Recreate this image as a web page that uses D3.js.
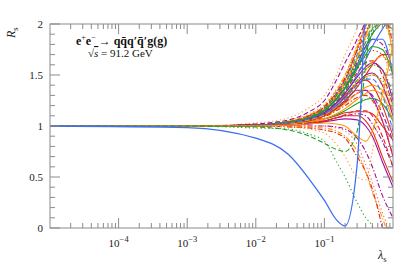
<!DOCTYPE html>
<html><head><meta charset="utf-8">
<script src="https://cdn.jsdelivr.net/npm/d3@7"></script>
<style>body{margin:0;background:#fff}svg{display:block}</style>
</head><body>
<script>
// ---- data ----
const lambdaGrid = [1e-5, 1e-3, 0.01, 0.03, 0.06, 0.1, 0.15, 0.2, 0.3, 0.4, 0.5, 0.7, 1.0];
const xMajorTickLabels = ["\u22124", "\u22123", "\u22122", "\u22121"];
const xMajorTicks = [1e-4, 1e-3, 1e-2, 1e-1];
const yMajorTicks = [0, 0.5, 1, 1.5, 2];
const yTickLabels = ["0", "0.5", "1", "1.5", "2"];

// bundle of ratio curves (R_s at each lambdaGrid point)
const seriesValues = [
  [1,1,1.01,1.04,1.09,1.17,1.30,1.45,1.75,2.00,2.20,2.30,2.20],
  [1,1,1.01,1.03,1.07,1.13,1.22,1.30,1.42,1.45,1.40,1.20,0.90],
  [1,1,1.01,1.03,1.06,1.11,1.18,1.25,1.35,1.35,1.28,1.05,0.70],
  [1,1,1.01,1.04,1.08,1.15,1.27,1.38,1.60,1.78,1.90,2.00,1.95],
  [1,1,1.01,1.04,1.10,1.19,1.32,1.45,1.70,1.90,2.05,2.20,2.20],
  [1,1,1.01,1.05,1.11,1.20,1.35,1.50,1.78,1.98,2.10,2.20,2.10],
  [1,1,1.01,1.03,1.07,1.14,1.24,1.34,1.52,1.62,1.64,1.50,1.20],
  [1,1,1.01,1.04,1.09,1.16,1.28,1.40,1.62,1.78,1.85,1.80,1.55],
  [1,1,1.01,1.03,1.06,1.12,1.20,1.29,1.45,1.55,1.60,1.55,1.30],
  [1,1,1.01,1.04,1.10,1.18,1.30,1.43,1.68,1.86,1.96,2.00,1.85],
  [1,1,1.01,1.03,1.08,1.15,1.26,1.36,1.55,1.68,1.74,1.70,1.45],
  [1,1,1.01,1.03,1.07,1.13,1.22,1.32,1.50,1.65,1.78,1.95,2.10],
  [1,1,1.01,1.02,1.05,1.10,1.17,1.23,1.32,1.35,1.30,1.12,0.85],
  [1,1,1.00,1.02,1.04,1.07,1.10,1.13,1.14,1.14,1.12,1.00,0.86],
  [1,1,1.01,1.03,1.06,1.10,1.16,1.22,1.32,1.38,1.40,1.35,1.15],
  [1,1,1.01,1.04,1.08,1.14,1.24,1.34,1.56,1.74,1.90,2.10,2.30],
  [1,1,1.01,1.05,1.12,1.21,1.36,1.50,1.80,2.05,2.20,2.30,2.30],
  [1,1,1.01,1.03,1.07,1.12,1.20,1.28,1.42,1.50,1.52,1.40,1.10],
  [1,1,1.01,1.02,1.05,1.09,1.15,1.20,1.28,1.30,1.25,1.05,0.70],
  [1,1,1.00,1.02,1.04,1.07,1.11,1.15,1.22,1.26,1.27,1.22,1.05],
  [1,1,1.01,1.04,1.09,1.16,1.27,1.38,1.60,1.78,1.92,2.05,2.00],
  [1,1,1.01,1.03,1.07,1.12,1.20,1.27,1.40,1.48,1.50,1.42,1.15],
  [1,1,1.01,1.04,1.10,1.18,1.32,1.46,1.75,1.98,2.15,2.30,2.30],
  [1,1,1.01,1.03,1.06,1.10,1.17,1.24,1.38,1.50,1.60,1.70,1.70],
  [1,1,1.01,1.03,1.06,1.11,1.18,1.25,1.38,1.46,1.50,1.45,1.20],
  [1,1,1.00,1.02,1.04,1.07,1.12,1.17,1.26,1.32,1.35,1.30,1.05],
  [1,1,1.00,1.01,1.03,1.05,1.08,1.10,1.12,1.10,1.02,0.85,0.60],
  [1,1,1.00,1.01,1.03,1.05,1.08,1.11,1.15,1.15,1.10,0.90,0.60],
  [1,1,1.00,1.01,1.02,1.05,1.08,1.10,1.10,1.05,0.95,0.70,0.45],
  [1,1,1.00,1.01,1.02,1.04,1.06,1.07,1.06,1.00,0.90,0.65,0.40],
  [1,1,1.01,1.04,1.09,1.17,1.29,1.41,1.66,1.88,2.05,2.10,1.70],
  [1,1,1.01,1.03,1.08,1.15,1.26,1.37,1.58,1.74,1.85,1.85,1.50],
  [1,1,1.01,1.04,1.09,1.17,1.30,1.42,1.65,1.82,1.95,2.15,2.40],
  [1,1,1.01,1.03,1.07,1.13,1.23,1.32,1.48,1.58,1.62,1.55,1.25],
  [1,1,1.01,1.04,1.10,1.19,1.33,1.47,1.74,1.92,2.05,2.10,1.80],
  [1,1,1.01,1.03,1.06,1.11,1.19,1.27,1.43,1.55,1.63,1.68,1.55],
  [1,1,1.01,1.04,1.08,1.15,1.26,1.37,1.57,1.70,1.78,1.75,1.50],
  [1,1,1.01,1.03,1.07,1.12,1.20,1.27,1.40,1.46,1.46,1.30,0.95],
  // upper envelope
  [1,1,1.03,1.08,1.18,1.30,1.50,1.70,1.97,2.30,2.60,2.80,2.80],
  [1,1,1.02,1.06,1.14,1.25,1.45,1.62,1.85,2.05,2.40,2.80,2.80],
  // lower curves
  [1,1,1.00,1.00,1.00,1.00,0.99,0.97,0.88,0.75,0.60,0.32,0.10],
  [1,1,1.00,1.00,1.00,1.00,0.98,0.95,0.82,0.62,0.45,0.15,-0.10],
  [1,1,1.00,1.00,0.99,0.98,0.95,0.90,0.75,0.55,0.35,0.10,-0.20],
  [1,1,1.00,0.99,0.98,0.96,0.93,0.88,0.70,0.55,0.38,0.00,-0.50],
  [1,1,1.00,1.01,1.02,1.03,1.02,1.00,0.90,0.85,0.95,1.30,1.80],
  [1,1,1.00,0.99,0.97,0.93,0.82,0.70,0.50,0.47,0.75,1.30,2.00],
  [1,1,0.98,0.97,0.92,0.85,0.65,0.50,0.25,0.10,0.02,-0.30,-0.60],
  [1,1,0.99,0.96,0.90,0.83,0.77,0.75,0.95,1.60,2.20,3.00,3.00],
  [1,0.985,0.88,0.72,0.48,0.27,0.08,0.02,0.62,2.20,3.00,3.00,3.00]
];
const seriesColor = [
  "#ff9900","#e5261c","#a0109f","#1f9e22","#3d6ff5","#ff9900","#e5261c","#a0109f","#1f9e22","#ff9900",
  "#e5261c","#3d6ff5","#a0109f","#e5261c","#ff9900","#1f9e22","#ff9900","#a0109f","#e5261c","#1f9e22",
  "#3d6ff5","#ff9900","#a0109f","#e5261c","#1f9e22","#ff9900","#a0109f","#e5261c","#e5261c","#a0109f",
  "#ff9900","#3d6ff5","#1f9e22","#a0109f","#e5261c","#ff9900","#1f9e22","#3d6ff5",
  "#ffa030","#a0109f",
  "#a0109f","#ff6a5a","#ff9900","#e5261c","#ff9900","#ffa020","#33a833","#1f9e22","#3d6ff5"
];
const seriesDash = [
  "s","s","s","s","d","d","d","dd","dd","dd",
  "o","s","d","s","s","d","o","s","dd","s",
  "o","d","o","s","o","s","dd","d","s","s",
  "s","s","d","s","dd","d","s","d",
  "o","d",
  "dd","o","dd","dd","s","o","o","d","s"
];
const dashMap = {s:null, d:"5,2.5", o:"1.3,2.6", dd:"5,2,1.3,2"};

// ---- chart ----
const W = 405, H = 263;
const mL = 50, mR = 393, mT = 24, mB = 228;
const svg = d3.select("body").append("svg").attr("width", W).attr("height", H);
const x = d3.scaleLog().domain([1e-5, 1]).range([mL, mR]);
const y = d3.scaleLinear().domain([0, 2]).range([mB, mT]);

svg.append("clipPath").attr("id","clip").append("rect")
  .attr("x", mL).attr("y", mT).attr("width", mR - mL).attr("height", mB - mT);

const line = d3.line().x(d => x(d[0])).y(d => y(d[1])).curve(d3.curveMonotoneX);
const g = svg.append("g").attr("clip-path","url(#clip)");
seriesValues.forEach((vals, i) => {
  g.append("path")
    .attr("d", line(lambdaGrid.map((l, j) => [l, vals[j]])))
    .attr("fill","none")
    .attr("stroke", seriesColor[i])
    .attr("stroke-width", i === seriesValues.length - 1 ? 1.3 : 1.1)
    .attr("stroke-dasharray", dashMap[seriesDash[i]]);
});

// frame and ticks
const axCol = "#8a8a8a";
svg.append("rect").attr("x", mL).attr("y", mT).attr("width", mR - mL).attr("height", mB - mT)
  .attr("fill","none").attr("stroke", axCol).attr("stroke-width", 1);

const minorX = [];
for (let e = -5; e < 0; e++) for (let k = 2; k <= 9; k++) minorX.push(k * Math.pow(10, e));
const tk = svg.append("g").attr("stroke", axCol).attr("stroke-width", 1);
minorX.forEach(v => {
  tk.append("line").attr("x1", x(v)).attr("x2", x(v)).attr("y1", mB).attr("y2", mB - 5);
  tk.append("line").attr("x1", x(v)).attr("x2", x(v)).attr("y1", mT).attr("y2", mT + 5);
});
xMajorTicks.forEach(v => {
  tk.append("line").attr("x1", x(v)).attr("x2", x(v)).attr("y1", mB).attr("y2", mB - 10);
  tk.append("line").attr("x1", x(v)).attr("x2", x(v)).attr("y1", mT).attr("y2", mT + 10);
});
d3.range(0, 2.0001, 0.1).forEach(v => {
  const major = Math.abs(v * 2 - Math.round(v * 2)) < 1e-6;
  const len = major ? 10 : 5;
  tk.append("line").attr("x1", mL).attr("x2", mL + len).attr("y1", y(v)).attr("y2", y(v));
  tk.append("line").attr("x1", mR).attr("x2", mR - len).attr("y1", y(v)).attr("y2", y(v));
});

const font = "'Liberation Serif', 'DejaVu Serif', serif";
yMajorTicks.forEach((v, i) => {
  svg.append("text").attr("x", mL - 7).attr("y", y(v) + 4)
    .attr("text-anchor","end").attr("font-family", font).attr("font-size", 11)
    .attr("fill","#222").text(yTickLabels[i]);
});
xMajorTicks.forEach((v, i) => {
  const t = svg.append("text").attr("x", x(v) - 10).attr("y", 247)
    .attr("font-family", font).attr("font-size", 11).attr("fill","#222");
  t.append("tspan").text("10");
  t.append("tspan").attr("dy", -5).attr("font-size", 8.5).text(xMajorTickLabels[i]);
});

// axis titles
const xt = svg.append("text").attr("x", 378).attr("y", 259)
  .attr("font-family", font).attr("font-size", 12).attr("fill","#222");
xt.append("tspan").attr("font-style","italic").text("\u03bb");
xt.append("tspan").attr("dy", 3).attr("font-size", 8.5).text("s");

const yt = svg.append("text").attr("transform","translate(15,38) rotate(-90)")
  .attr("font-family", font).attr("font-size", 12).attr("fill","#222");
yt.append("tspan").attr("font-style","italic").text("R");
yt.append("tspan").attr("dy", 3).attr("font-size", 8.5).text("s");

// annotation
const a1 = svg.append("text").attr("x", 76).attr("y", 45)
  .attr("font-family", font).attr("font-size", 12).attr("font-weight","bold").attr("fill","#111");
a1.append("tspan").text("e");
a1.append("tspan").attr("dy", -5).attr("font-size", 8).attr("font-weight","normal").text("+");
a1.append("tspan").attr("dy", 5).text("e");
a1.append("tspan").attr("dy", -5).attr("font-size", 8).attr("font-weight","normal").text("\u2212");
a1.append("tspan").attr("dy", 5).attr("font-weight","normal").text(" \u2192 ");
a1.append("tspan").text("qq\u0304q\u2032q\u0304\u2032g(g)");

const a2 = svg.append("text").attr("x", 88).attr("y", 57)
  .attr("font-family", font).attr("font-size", 11).attr("fill","#111");
a2.append("tspan").text("\u221a");
a2.append("tspan").attr("font-style","italic").attr("text-decoration","overline").text("s");
a2.append("tspan").text(" = 91.2 GeV");
</script>
</body></html>
